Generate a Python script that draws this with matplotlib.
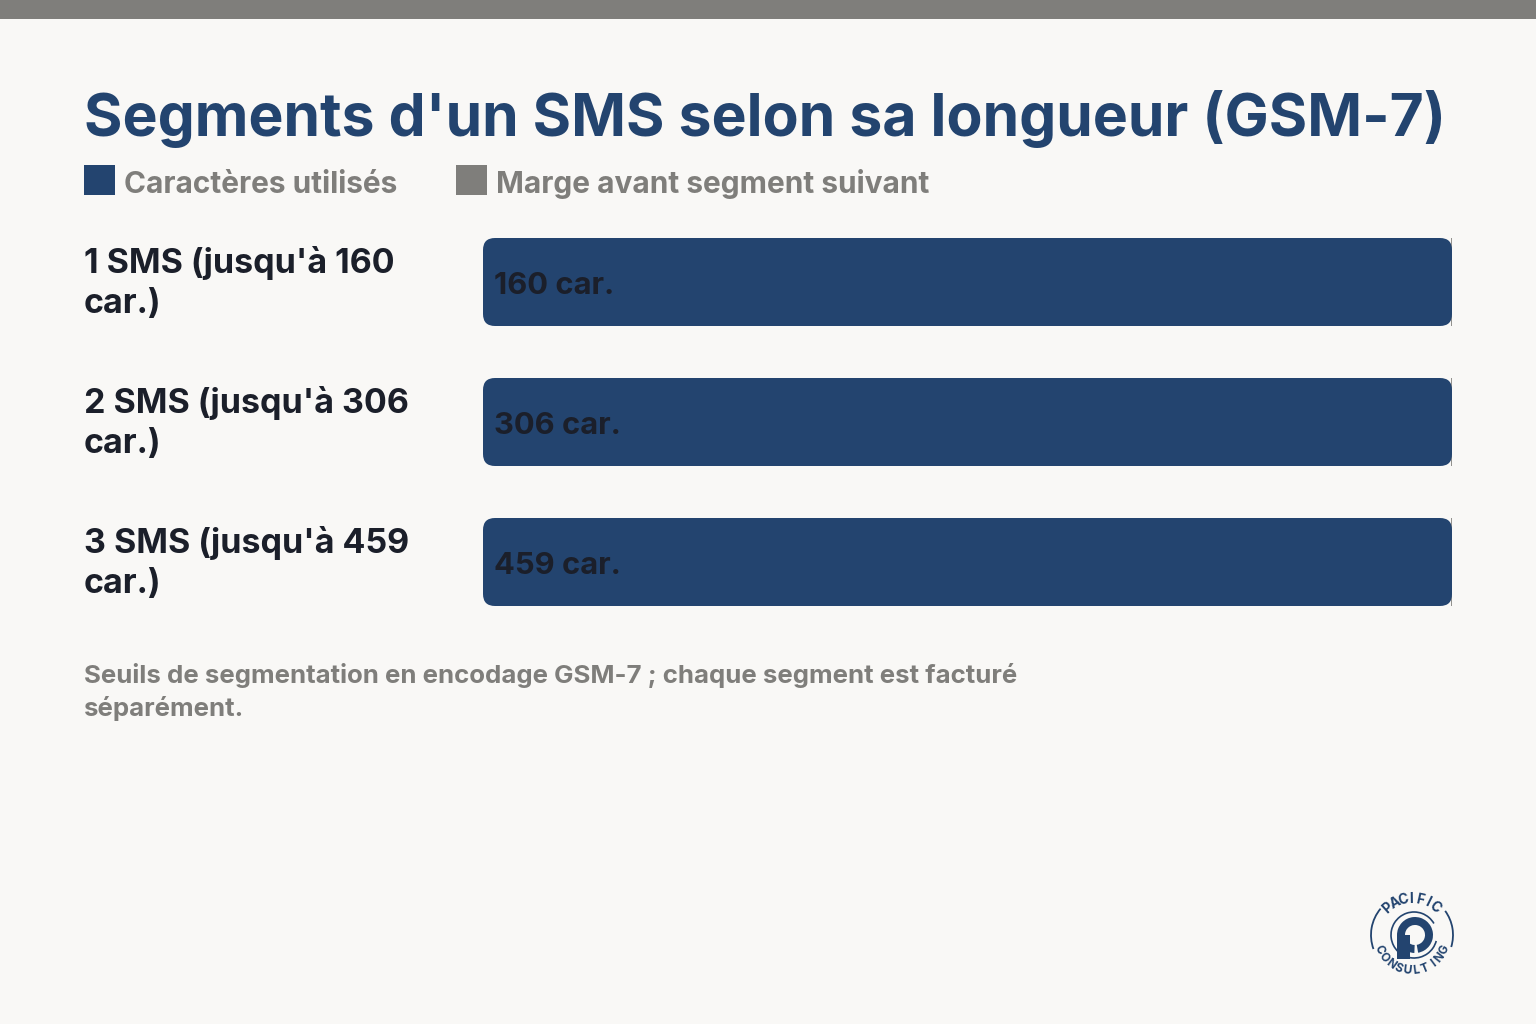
import numpy as np
import matplotlib
import matplotlib.pyplot as plt
from matplotlib.patches import FancyBboxPatch, Rectangle, Arc, Wedge
from matplotlib.transforms import blended_transform_factory

categories = ["1 SMS (jusqu'à 160\ncar.)", "2 SMS (jusqu'à 306\ncar.)", "3 SMS (jusqu'à 459\ncar.)"]
used = [160, 306, 459]
capacity = [160, 306, 459]
value_labels = ['160 car.', '306 car.', '459 car.']
legend_labels = ['Caractères utilisés', 'Marge avant segment suivant']

navy = '#23446F'
grey = '#7F7E7B'
bg = '#F9F8F6'
dark = '#1B1F2A'

plt.rcParams['font.family'] = ['Inter', 'DejaVu Sans']

W, H = 1536, 1024
fig = plt.figure(figsize=(15.36, 10.24), dpi=100, facecolor=bg)

def fx(px):
    return px / W

def fy(py):
    return 1 - py / H

# top strip
fig.add_artist(Rectangle((0, fy(19)), 1, 19 / H, transform=fig.transFigure, color=grey, lw=0))

fig.text(fx(84), fy(136), "Segments d'un SMS selon sa longueur (GSM-7)", fontsize=42.4, fontweight='bold',
         color=navy, va='baseline', ha='left')

# legend
fig.add_artist(Rectangle((fx(84), fy(195)), 31 / W, 30 / H, transform=fig.transFigure, color=navy, lw=0))
fig.text(fx(124), fy(193), legend_labels[0], fontsize=21.5, fontweight='bold', color=grey, va='baseline')
fig.add_artist(Rectangle((fx(456), fy(195)), 31 / W, 30 / H, transform=fig.transFigure, color=grey, lw=0))
fig.text(fx(496), fy(193), legend_labels[1], fontsize=21.5, fontweight='bold', color=grey, va='baseline')

ax = fig.add_axes([fx(483), fy(632), fx(1452) - fx(483), 420 / H])
ax.set_facecolor('none')
y = np.arange(len(categories))
frac_used = np.array(used) / np.array(capacity)
frac_margin = 1 - frac_used
bh = 88 / 140
bars = ax.barh(y, frac_used, height=bh, color=navy)
ax.barh(y, frac_margin, left=frac_used, height=bh, color=grey, edgecolor=grey, linewidth=1.2)
ax.set_xlim(0, 1.0)
ax.set_ylim(2.5, -0.5)
ax.axis('off')

# rounded bars
rx = 12 / (1452 - 483)
ry = 12 / 140
for b in bars:
    b.set_visible(False)
    x0, y0, w, h = b.get_x(), b.get_y(), b.get_width(), b.get_height()
    p = FancyBboxPatch((x0 + rx, y0 + ry), w - 2 * rx, h - 2 * ry,
                       boxstyle='round,pad=%f,rounding_size=%f' % (rx, rx),
                       mutation_aspect=ry / rx, color=navy, lw=0, clip_on=False)
    ax.add_patch(p)

for i, lab in enumerate(value_labels):
    ax.text(0.011, y[i] + 0.03, lab, fontsize=22.3, fontweight='bold', color=dark, va='center', ha='left')

tr = blended_transform_factory(fig.transFigure, ax.transData)
for i, cat in enumerate(categories):
    fig.text(fx(84), y[i] + 0.005, cat, transform=tr, fontsize=24.5, fontweight='bold', color=dark,
             va='center', ha='left', linespacing=1.32)

fig.text(fx(84), fy(692), 'Seuils de segmentation en encodage GSM-7 ; chaque segment est facturé\nséparément.',
         fontsize=18.6, fontweight='bold', color=grey, va='center', ha='left', linespacing=1.42)

# logo
lax = fig.add_axes([fx(1362), fy(985), 100 / W, 100 / H])
lax.set_xlim(-50, 50)
lax.set_ylim(-50, 50)
lax.set_aspect('equal')
lax.axis('off')
lax.add_patch(Arc((0, 0), 82, 82, theta1=140, theta2=200, color=navy, lw=1.3))
lax.add_patch(Arc((0, 0), 82, 82, theta1=-17, theta2=36, color=navy, lw=1.3))
lax.add_patch(Arc((2, 0), 46, 46, theta1=30, theta2=-15, color=navy, lw=1.2))
lax.add_patch(Wedge((3, 0), 18, -80, 268, width=8, color=navy, lw=0))
lax.add_patch(Rectangle((-15, -24), 13, 24, color=navy, lw=0))

def arc_text(ax_, s, r, start, end, fs):
    angs = np.linspace(start, end, len(s))
    for ch, a in zip(s, angs):
        t = np.deg2rad(a)
        rot = a - 90 if 0 < a < 180 else a + 90
        ax_.text(r * np.cos(t), r * np.sin(t), ch, rotation=rot, fontsize=fs, fontweight='bold',
                 color=navy, ha='center', va='center', rotation_mode='anchor')

arc_text(lax, 'PACIFIC', 36, 132, 50, 10)
arc_text(lax, 'CONSULTING', 36, 204, 336, 8.5)

fig.savefig('out.png', dpi=100, facecolor=bg)
